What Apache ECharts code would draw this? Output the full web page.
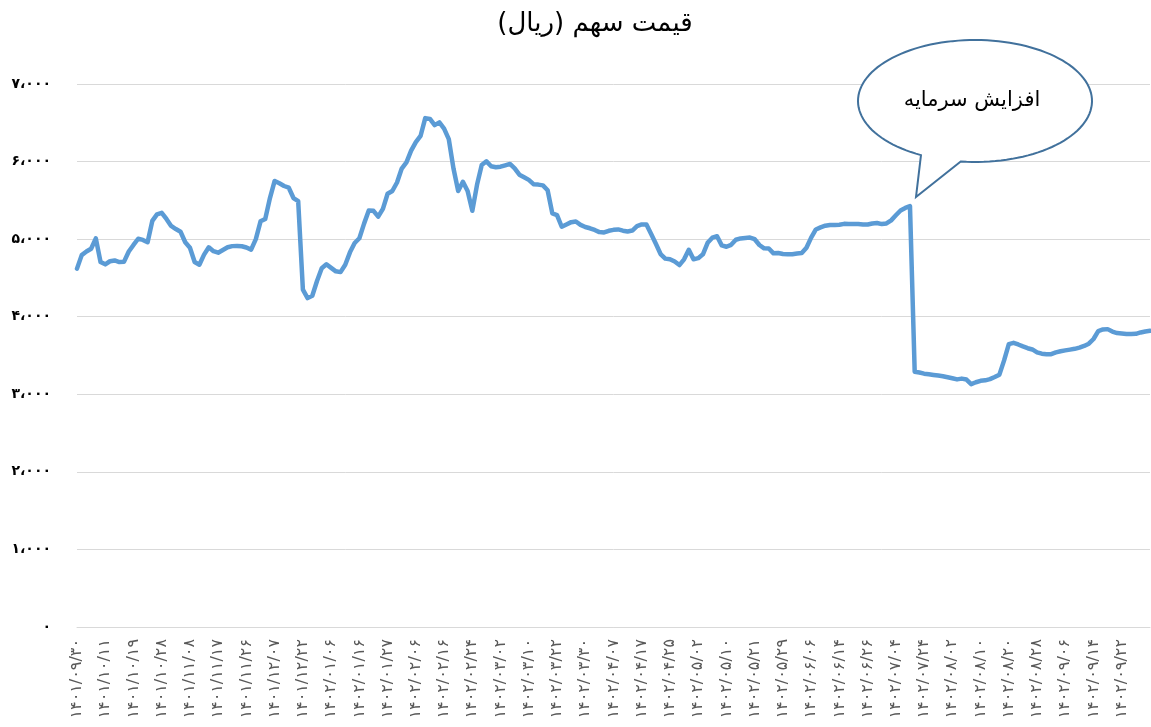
<!DOCTYPE html>
<html>
<head>
<meta charset="utf-8">
<script src="https://cdn.jsdelivr.net/npm/echarts@6/dist/echarts.min.js"></script>
<style>
html,body{margin:0;padding:0;background:#fff;}
#chart{width:1151px;height:727px;}
</style>
</head>
<body>
<div id="chart"></div>
<script>
// Title and annotation
const chartTitle = 'قیمت سهم (ریال)\u200F';
const calloutText = 'افزایش سرمایه';

// x-axis tick labels (one every 6 trading days)
const tickLabels = [
  '۱۴۰۱/۰۹/۳۰','۱۴۰۱/۱۰/۱۱','۱۴۰۱/۱۰/۱۹','۱۴۰۱/۱۰/۲۸','۱۴۰۱/۱۱/۰۸','۱۴۰۱/۱۱/۱۷','۱۴۰۱/۱۱/۲۶','۱۴۰۱/۱۲/۰۷',
  '۱۴۰۱/۱۲/۲۲','۱۴۰۲/۰۱/۰۶','۱۴۰۲/۰۱/۱۶','۱۴۰۲/۰۱/۲۷','۱۴۰۲/۰۲/۰۶','۱۴۰۲/۰۲/۱۶','۱۴۰۲/۰۲/۲۴','۱۴۰۲/۰۳/۰۲',
  '۱۴۰۲/۰۳/۱۰','۱۴۰۲/۰۳/۲۲','۱۴۰۲/۰۳/۳۰','۱۴۰۲/۰۴/۰۷','۱۴۰۲/۰۴/۱۷','۱۴۰۲/۰۴/۲۵','۱۴۰۲/۰۵/۰۲','۱۴۰۲/۰۵/۱۰',
  '۱۴۰۲/۰۵/۲۱','۱۴۰۲/۰۵/۲۹','۱۴۰۲/۰۶/۰۶','۱۴۰۲/۰۶/۱۴','۱۴۰۲/۰۶/۲۶','۱۴۰۲/۰۷/۰۴','۱۴۰۲/۰۷/۲۴','۱۴۰۲/۰۸/۰۲',
  '۱۴۰۲/۰۸/۱۰','۱۴۰۲/۰۸/۲۰','۱۴۰۲/۰۸/۲۸','۱۴۰۲/۰۹/۰۶','۱۴۰۲/۰۹/۱۴','۱۴۰۲/۰۹/۲۲'
];
const labelEvery = 6;

// y-axis tick labels
const yTickLabels = ['۰','۱،۰۰۰','۲،۰۰۰','۳،۰۰۰','۴،۰۰۰','۵،۰۰۰','۶،۰۰۰','۷،۰۰۰'];

// Share price (rial), before the capital increase
const priceBefore = [
  4620,4794,4840,4876,5010,4705,4675,4715,4725,4705,4710,4840,4925,5005,4990,4960,5235,5320,5340,5260,
  5170,5130,5095,4960,4890,4705,4670,4800,4895,4845,4825,4860,4895,4910,4912,4908,4893,4865,5000,5230,
  5260,5530,5750,5720,5685,5663,5530,5490,4350,4240,4270,4460,4625,4676,4630,4585,4575,4670,4830,4950,
  5012,5200,5370,5365,5290,5390,5585,5621,5730,5910,5990,6140,6250,6330,6560,6550,6470,6505,6425,6290,
  5910,5620,5740,5620,5365,5700,5955,6003,5940,5927,5934,5952,5970,5912,5831,5798,5764,5709,5703,5693,
  5630,5332,5310,5160,5190,5219,5228,5184,5157,5140,5118,5091,5086,5108,5120,5125,5109,5099,5111,5168,
  5189,5189,5067,4940,4808,4749,4740,4711,4666,4740,4862,4740,4755,4804,4953,5019,5037,4920,4902,4927,
  4992,5009,5014,5020,4999,4925,4882,4880,4817,4822,4809,4805,4806,4815,4821,4890,5020,5125,5152,5173,
  5183,5181,5185,5197,5195,5194,5194,5188,5189,5202,5208,5194,5202,5242,5307,5370,5402,5425
];
// Share price (rial), after the capital increase
const priceAfter = [
  3290,3280,3266,3258,3249,3241,3232,3220,3207,3192,3202,3190,3131,3155,3174,3180,3195,3222,3253,3437,
  3647,3663,3642,3617,3594,3578,3541,3523,3515,3517,3540,3555,3566,3576,3586,3601,3623,3652,3713,3815,
  3836,3840,3808,3789,3783,3778,3777,3779,3797,3810,3818
];

const prices = priceBefore.concat(priceAfter);
const categories = prices.map(function (_, i) {
  return (i % labelEvery === 0 && tickLabels[i / labelEvery]) ? tickLabels[i / labelEvery] : '';
});

const chart = echarts.init(document.getElementById('chart'), null, {renderer: 'canvas'});

// callout outline (ellipse with pointer)
const cx = 975, cy = 101, rx = 117, ry = 61;
const a0 = 117.5 * Math.PI / 180, a1 = (97 + 360) * Math.PI / 180;
const pts = [];
for (let k = 0; k <= 120; k++) {
  const a = a0 + (a1 - a0) * k / 120;
  pts.push([cx + rx * Math.cos(a), cy + ry * Math.sin(a)]);
}
pts.push([916, 197]);

const option = {
  backgroundColor: '#ffffff',
  animation: false,
  title: {
    text: chartTitle,
    left: 590,
    textAlign: 'center',
    top: 6,
    textStyle: {fontFamily: 'DejaVu Sans', fontSize: 26, fontWeight: 'normal', color: '#000000'}
  },
  grid: {left: 77, right: 1, top: 84, bottom: 100},
  xAxis: {
    type: 'category',
    data: categories,
    boundaryGap: false,
    axisLine: {show: true, lineStyle: {color: '#D9D9D9', width: 1}},
    axisTick: {show: false},
    splitLine: {show: false},
    axisLabel: {
      interval: labelEvery - 1,
      rotate: 90,
      margin: 12,
      color: '#595959',
      fontFamily: 'DejaVu Sans',
      fontSize: 16
    }
  },
  yAxis: {
    type: 'value',
    min: 0,
    max: 7000,
    interval: 1000,
    axisLine: {show: false},
    axisTick: {show: false},
    splitLine: {show: true, lineStyle: {color: '#D9D9D9', width: 1}},
    axisLabel: {
      margin: 26,
      color: '#000000',
      fontFamily: 'DejaVu Sans',
      fontWeight: 'bold',
      fontSize: 14,
      formatter: function (v) { return yTickLabels[Math.round(v / 1000)]; }
    }
  },
  series: [{
    type: 'line',
    data: prices,
    symbol: 'none',
    smooth: false,
    lineStyle: {color: '#5B9BD5', width: 4.5, join: 'round', cap: 'round'},
    z: 3
  }],
  graphic: [
    {
      type: 'polygon',
      shape: {points: pts},
      style: {fill: '#ffffff', stroke: '#41719C', lineWidth: 2},
      z: 100
    },
    {
      type: 'text',
      x: 972,
      y: 101,
      style: {
        text: calloutText,
        fill: '#000000',
        font: '21px "DejaVu Sans"',
        align: 'center',
        verticalAlign: 'middle'
      },
      z: 101
    }
  ]
};
chart.setOption(option);
</script>
</body>
</html>
